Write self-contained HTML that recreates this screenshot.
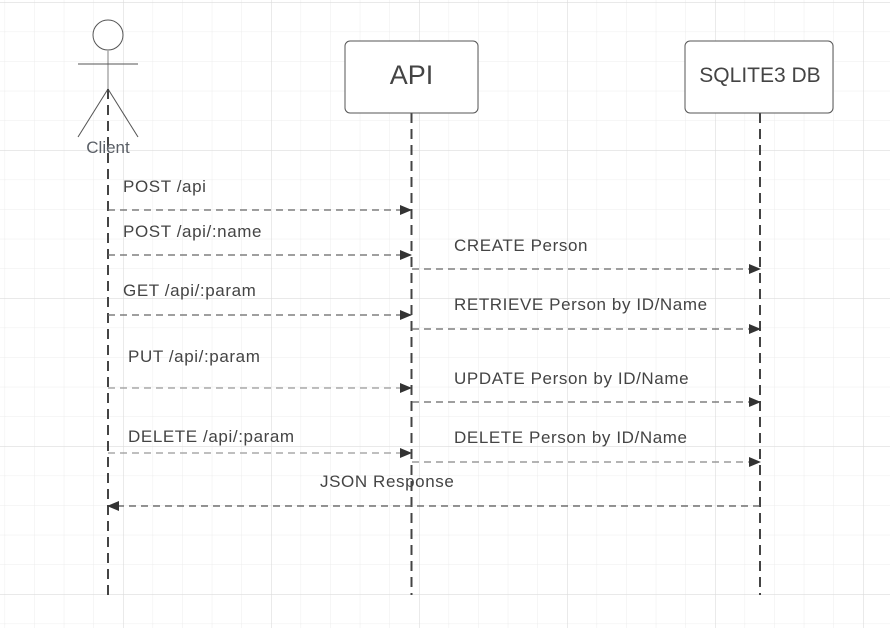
<!DOCTYPE html>
<html><head><meta charset="utf-8"><style>
html,body{margin:0;padding:0;background:#fff;}
svg{display:block;}
text{font-family:"Liberation Sans",Arial,sans-serif;}
</style></head><body>
<svg width="890" height="628" viewBox="0 0 890 628" xmlns="http://www.w3.org/2000/svg">
<defs>
<pattern id="minor" x="4.6" y="2" width="29.6" height="29.6" patternUnits="userSpaceOnUse">
<path d="M0 0V29.6M0 0H29.6" stroke="#ececec" stroke-width="1" fill="none"/>
</pattern>
<pattern id="major" x="-25" y="2" width="148" height="148" patternUnits="userSpaceOnUse">
<path d="M0 0V148M0 0H148" stroke="#dcdcdc" stroke-width="1.2" fill="none"/>
</pattern>
<marker id="ah" markerWidth="12" markerHeight="10" refX="11" refY="5" orient="auto" markerUnits="userSpaceOnUse">
<path d="M0 0L12 5L0 10Z" fill="#333"/>
</marker>
</defs>
<rect width="890" height="628" fill="#fff"/>
<rect width="890" height="628" fill="url(#minor)"/>
<rect width="890" height="628" fill="url(#major)"/>

<circle cx="108" cy="35" r="15" fill="#fff" stroke="#555" stroke-width="1"/>
<line x1="108" y1="50" x2="108" y2="89" stroke="#aaa" stroke-width="1.5"/>
<line x1="78" y1="64" x2="138" y2="64" stroke="#555" stroke-width="1"/>
<line x1="108" y1="89" x2="78" y2="137" stroke="#555" stroke-width="1"/>
<line x1="108" y1="89" x2="138" y2="137" stroke="#555" stroke-width="1"/>

<g stroke="#444" stroke-width="2" stroke-dasharray="10,6">
<line x1="108" y1="89" x2="108" y2="595"/>
<line x1="411.5" y1="113" x2="411.5" y2="595"/>
<line x1="760" y1="113" x2="760" y2="595"/>
</g>
<text x="108" y="153" font-size="17" fill="#5a5f66" text-anchor="middle">Client</text>

<rect x="345" y="41" width="133" height="72" rx="5" fill="#fff" stroke="#555" stroke-width="1"/>
<text x="411.5" y="84" font-size="27" fill="#444" text-anchor="middle">API</text>
<rect x="685" y="41" width="148" height="72" rx="5" fill="#fff" stroke="#555" stroke-width="1"/>
<text x="760" y="82" font-size="21" fill="#444" text-anchor="middle">SQLITE3 DB</text>

<g stroke="#666" stroke-width="1.3" stroke-dasharray="7,5" fill="none">
<line x1="108" y1="210" x2="411" y2="210" marker-end="url(#ah)"/>
<line x1="108" y1="255" x2="411" y2="255" marker-end="url(#ah)"/>
<line x1="412" y1="269" x2="760" y2="269" marker-end="url(#ah)"/>
<line x1="108" y1="315" x2="411" y2="315" marker-end="url(#ah)"/>
<line x1="412" y1="329" x2="760" y2="329" marker-end="url(#ah)"/>
<line x1="108" y1="388" x2="411" y2="388" marker-end="url(#ah)" stroke="#999"/>
<line x1="412" y1="402" x2="760" y2="402" marker-end="url(#ah)"/>
<line x1="108" y1="453" x2="411" y2="453" marker-end="url(#ah)" stroke="#999"/>
<line x1="412" y1="462" x2="760" y2="462" marker-end="url(#ah)" stroke="#888"/>
<line x1="760" y1="506" x2="108" y2="506" marker-end="url(#ah)" stroke="#555"/>
</g>

<g font-size="17" fill="#444" letter-spacing="0.6">
<text x="123" y="192">POST /api</text>
<text x="123" y="237">POST /api/:name</text>
<text x="454" y="251">CREATE Person</text>
<text x="123" y="296">GET /api/:param</text>
<text x="454" y="310">RETRIEVE Person by ID/Name</text>
<text x="128" y="362">PUT /api/:param</text>
<text x="454" y="384">UPDATE Person by ID/Name</text>
<text x="128" y="442">DELETE /api/:param</text>
<text x="454" y="443">DELETE Person by ID/Name</text>
<text x="320" y="487">JSON Response</text>
</g>
</svg>
</body></html>
